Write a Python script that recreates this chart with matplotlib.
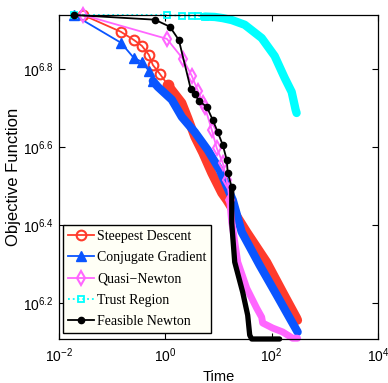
import numpy as np
import matplotlib.pyplot as plt
from matplotlib.ticker import NullLocator

plt.rcParams['font.family'] = ['Liberation Sans', 'DejaVu Sans']
plt.rcParams['mathtext.fontset'] = 'custom'
plt.rcParams['mathtext.rm'] = 'Liberation Sans'
plt.rcParams['mathtext.it'] = 'Liberation Sans:italic'
plt.rcParams['mathtext.default'] = 'regular'

# values, as log10(time) and log10(objective)
sd_logt = [-1.549, -0.836, -0.592, -0.441, -0.310, -0.235, -0.103, 0.047, 0.310, 0.423,
           0.554, 0.704, 0.873, 1.061, 1.155, 1.531, 1.906, 2.207, 2.469, 2.488]
sd_logf = [6.938, 6.895, 6.874, 6.859, 6.836, 6.810, 6.787, 6.759, 6.713, 6.674,
           6.626, 6.585, 6.533, 6.482, 6.464, 6.382, 6.305, 6.228, 6.162, 6.156]

cg_logt = [-1.718, -0.836, -0.592, -0.441, -0.310, -0.235, -0.141, 0.122, 0.310, 0.554,
           0.798, 1.023, 1.211, 1.268, 1.437, 1.775, 2.094, 2.338, 2.488]
cg_logf = [6.938, 6.867, 6.828, 6.818, 6.795, 6.769, 6.754, 6.721, 6.677, 6.638,
           6.592, 6.541, 6.482, 6.464, 6.382, 6.297, 6.221, 6.162, 6.126]

qn_logt = [-1.549, 0.028, 0.329, 0.498, 0.610, 0.704, 0.742, 0.873, 0.967, 1.080, 1.155,
           1.211, 1.249, 1.362, 1.531, 1.718, 1.812, 1.831, 2.019, 2.207, 2.394, 2.488]
qn_logf = [6.938, 6.877, 6.826, 6.782, 6.744, 6.713, 6.703, 6.644, 6.597, 6.559, 6.515,
           6.464, 6.408, 6.305, 6.238, 6.187, 6.164, 6.149, 6.136, 6.126, 6.110, 6.110]

tr_logt = [-1.718, 0.028, 0.310, 0.498, 0.610, 0.742, 0.930, 1.080, 1.250, 1.493,
           1.812, 2.056, 2.244, 2.376, 2.451, 2.469]
tr_logf = [6.938, 6.938, 6.936, 6.936, 6.936, 6.934, 6.933, 6.930, 6.925, 6.913,
           6.879, 6.833, 6.777, 6.741, 6.695, 6.687]

fn_logt = [-1.718, -0.197, 0.085, 0.254, 0.479, 0.554, 0.629, 0.779, 0.892, 0.986, 1.080,
           1.155, 1.174, 1.249, 1.249, 1.305, 1.455, 1.549, 1.587, 1.624, 2.094, 2.150]
fn_logf = [6.938, 6.926, 6.908, 6.874, 6.748, 6.736, 6.718, 6.703, 6.669, 6.638, 6.605,
           6.567, 6.533, 6.497, 6.405, 6.305, 6.228, 6.169, 6.118, 6.108, 6.108, 6.108]

labels = ['Steepest Descent', 'Conjugate Gradient', 'Quasi\u2212Newton',
          'Trust Region', 'Feasible Newton']
xtick_exp = [-2, 0, 2, 4]
ytick_exp = [6.2, 6.4, 6.6, 6.8]

# (logt, logf, color, marker, linestyle, marker opts, index where the dense band starts, band width)
series = [
    (sd_logt, sd_logf, '#ff3b2b', 'o', '-', dict(ms=7, mfc='none', mew=1.5), 7, 6.5),
    (cg_logt, cg_logf, '#0a55ff', '^', '-', dict(ms=7.5), 5, 6.0),
    (qn_logt, qn_logf, '#ff66ff', 'd', '-', dict(ms=7, mfc='none', mew=1.5), 11, 5.0),
    (tr_logt, tr_logf, '#00ffff', 's', ':', dict(ms=5, mfc='none', mew=1.3), 5, 6.0),
    (fn_logt, fn_logf, 'black', 'o', '-', dict(ms=4.5), 13, 3.8),
]

fig = plt.figure(figsize=(3.88, 3.83), dpi=100)
ax = fig.add_axes([59 / 388, 44 / 383, 319 / 388, 324 / 383])

handles = []
for (lt, lf, col, mk, ls, mopt, d, bw), lab in zip(series, labels):
    t = 10 ** np.array(lt)
    f = 10 ** np.array(lf)
    h, = ax.plot(t[:d + 1], f[:d + 1], color=col, ls=ls, lw=1.3, marker=mk,
                 mec=col, clip_on=False, label=lab, **mopt)
    ax.plot(t[d:], f[d:], color=col, lw=bw, solid_capstyle='round',
            solid_joinstyle='round', clip_on=False)
    handles.append(h)

ax.set_xscale('log')
ax.set_yscale('log')
ax.set_xlim(1e-2, 1e4)
ax.set_ylim(10 ** 6.108, 10 ** 6.938)

ax.set_xticks([10.0 ** e for e in xtick_exp], labels=[r'$10^{%d}$' % e for e in xtick_exp])
ax.set_yticks([10 ** e for e in ytick_exp], labels=[r'$10^{%.1f}$' % e for e in ytick_exp])
ax.xaxis.set_minor_locator(NullLocator())
ax.yaxis.set_minor_locator(NullLocator())
ax.tick_params(direction='in', length=4, width=0.8, top=True, right=True,
               labelsize=10, pad=4, colors='black')
ax.tick_params(axis='x', pad=5)
for s in ax.spines.values():
    s.set_linewidth(0.9)

ax.set_ylabel('Objective Function', fontsize=12)
ax.yaxis.set_label_coords(-0.118, 0.5)
ax.set_xlabel('Time', fontsize=10.5)
ax.xaxis.set_label_coords(0.5, -0.095)

leg = ax.legend(handles=handles, loc='lower left', bbox_to_anchor=(0.0125, 0.0185),
                borderaxespad=0, prop={'family': 'Liberation Serif', 'size': 10},
                fancybox=False, edgecolor='black', facecolor='#fffff6', framealpha=1,
                handlelength=1.9, handletextpad=0.2, labelspacing=0.6, borderpad=0.35,
                numpoints=1)
leg.get_frame().set_linewidth(1.0)

fig.savefig('out.png', dpi=100)
